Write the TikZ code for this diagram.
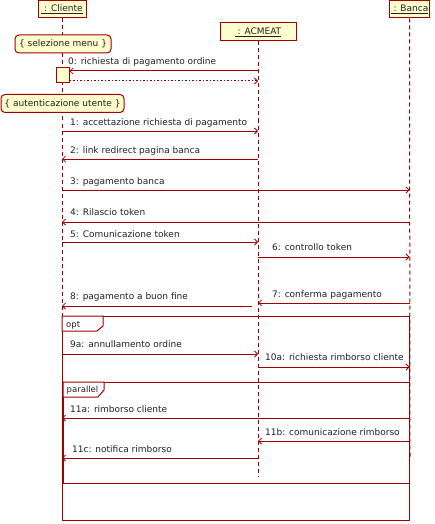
\documentclass[tikz,border=0pt]{standalone}
\usepackage{fontspec}
\setmainfont{DejaVu Sans}
\usetikzlibrary{arrows.meta}
\definecolor{lc}{HTML}{A00000}
\definecolor{bx}{HTML}{FEFECE}
\definecolor{tx}{HTML}{222222}
\tikzset{
  lbox/.style={draw=lc,fill=bx,line width=1pt,inner sep=0pt,text=tx,font=\fontsize{9}{10}\selectfont},
  note/.style={draw=lc,fill=bx,line width=1pt,rounded corners=4pt,inner sep=0pt,text=tx,font=\fontsize{9}{10}\selectfont},
  life/.style={draw=lc,line width=1pt,dash pattern=on 4pt off 3pt},
  msg/.style={draw=lc,line width=1pt,-{Straight Barb[length=3pt,width=6pt,line width=0.8pt]}},
  ret/.style={draw=lc,line width=1pt,dash pattern=on 1.5pt off 2pt,-{Straight Barb[length=3pt,width=6pt,line width=0.8pt]}},
  lbl/.style={anchor=base west,inner sep=0pt,text=tx,font=\fontsize{9}{10}\selectfont},
  tablbl/.style={anchor=base west,inner sep=0pt,text=tx,font=\fontsize{8.5}{10}\selectfont},
  frame/.style={draw=lc,line width=1pt},
}
\begin{document}
\begin{tikzpicture}[x=1pt,y=-1pt]
\useasboundingbox[fill=white] (0,0) rectangle (434,524);
% lifeline heads
\node[lbox,minimum width=48pt,minimum height=17pt] (cl) at (62,9.5) {\underline{\ : Cliente}};
\node[lbox,minimum width=76pt,minimum height=18pt] (ac) at (258,32) {\underline{\ : ACMEAT}};
\node[lbox,minimum width=40pt,minimum height=17pt] (ba) at (409.5,9.5) {\underline{\ : Banca}};
\coordinate (clend) at (62,483);
\coordinate (acend) at (258,477);
\coordinate (baend) at (410,459);
\draw[life] (cl.south) -- (clend);
\draw[life] (ac.south) -- (acend);
\draw[life] (ba.south) -- (baend);
% notes
\node[note,minimum width=96pt,minimum height=18pt] (n1) at (63,44) {\{ selezione menu \}};
% activation box
\node[draw=lc,fill=bx,line width=1pt,minimum width=13pt,minimum height=15pt,inner sep=0pt] (act) at (62.5,75.5) {};
\node[note,minimum width=123pt,minimum height=18pt] (n2) at (62.5,103.5) {\{ autenticazione utente \}};
% message y coordinates
\coordinate (m0) at (0,71);
\coordinate (r0) at (0,81);
\coordinate (m1) at (0,131);
\coordinate (m2) at (0,159);
\coordinate (m3) at (0,190);
\coordinate (m4) at (0,222);
\coordinate (m5) at (0,242);
\coordinate (m6) at (0,257);
\coordinate (m7) at (0,303);
\coordinate (m8) at (0,306);
\coordinate (m9) at (0,354);
\coordinate (m10) at (0,367);
\coordinate (m11a) at (0,418);
\coordinate (m11b) at (0,441);
\coordinate (m11c) at (0,458);
\coordinate (m8s) at (252,306);
% messages
\draw[msg] (ac|-m0) -- (act.east|-m0);
\node[lbl] (t0) at (68,65) {0: richiesta di pagamento ordine};
\draw[ret] (act.east|-r0) -- (ac|-r0);
\draw[msg] (cl|-m1) -- (ac|-m1);
\node[lbl] (t1) at (70,125) {1: accettazione richiesta di pagamento};
\draw[msg] (ac|-m2) -- (cl|-m2);
\node[lbl] (t2) at (70,153) {2: link redirect pagina banca};
\draw[msg] (cl|-m3) -- (ba|-m3);
\node[lbl] (t3) at (70,184) {3: pagamento banca};
\draw[msg] (ba|-m4) -- (cl|-m4);
\node[lbl] (t4) at (70,215) {4: Rilascio token};
\draw[msg] (cl|-m5) -- (ac|-m5);
\node[lbl] (t5) at (70,237) {5: Comunicazione token};
\draw[msg] (ac|-m6) -- (ba|-m6);
\node[lbl] (t6) at (272,250) {6: controllo token};
\draw[msg] (ba|-m7) -- (ac|-m7);
\node[lbl] (t7) at (272,297) {7: conferma pagamento};
\draw[msg] (m8s) -- (cl|-m8);
\node[lbl] (t8) at (70,299) {8: pagamento a buon fine};
% opt frame
\draw[frame] (62,316) rectangle (409,520);
\draw[frame,fill=white] (62,316) -- (103,316) -- (103,326) -- (97,331) -- (62,331) -- cycle;
\node[tablbl] (topt) at (66,327) {opt};
\draw[msg] (cl|-m9) -- (ac|-m9);
\node[lbl] (t9) at (70,347) {9a: annullamento ordine};
\draw[msg] (ac|-m10) -- (ba|-m10);
\node[lbl] (t10) at (265,360) {10a: richiesta rimborso cliente};
% parallel frame
\draw[frame] (63,382) rectangle (409,483);
\draw[frame,fill=white] (63,382) -- (104,382) -- (104,390) -- (98,397) -- (63,397) -- cycle;
\node[tablbl] (tpar) at (66.5,392.5) {parallel};
\draw[msg] (ba|-m11a) -- (cl|-m11a);
\node[lbl] (t11a) at (70,412) {11a: rimborso cliente};
\draw[msg] (ba|-m11b) -- (ac|-m11b);
\node[lbl] (t11b) at (265,435) {11b: comunicazione rimborso};
\draw[msg] (ac|-m11c) -- (cl|-m11c);
\node[lbl] (t11c) at (72,452) {11c: notifica rimborso};
\end{tikzpicture}
\end{document}
